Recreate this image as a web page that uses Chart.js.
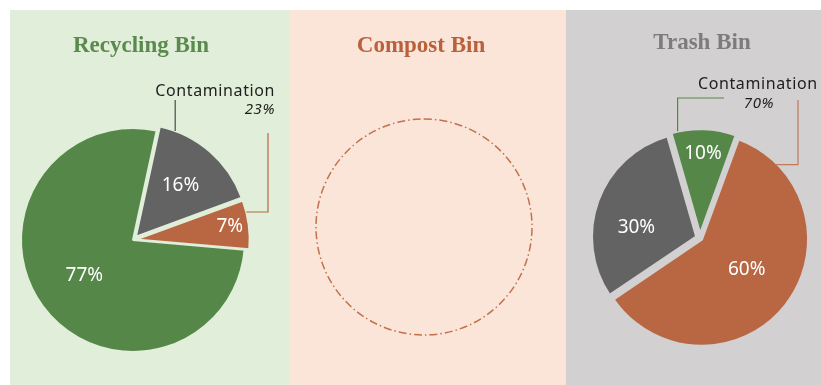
<!DOCTYPE html>
<html><head><meta charset="utf-8">
<script src="https://cdn.jsdelivr.net/npm/chart.js@4"></script>
<style>
html,body{margin:0;padding:0;background:#fff;width:821px;height:385px;overflow:hidden;position:relative;}
.panel{position:absolute;top:10px;height:375px;}
.panel canvas{position:absolute;left:0;top:0;}
.title{position:absolute;transform:translate(-50%,-50%);white-space:nowrap;font-family:"Liberation Serif",serif;font-weight:bold;font-size:23px;}
.callout{position:absolute;white-space:nowrap;font-family:"Noto Sans",sans-serif;font-size:16px;letter-spacing:0.6px;color:#1e1e1e;line-height:1;transform:translateY(-50%);}
.pct{font-style:italic;font-size:15px;}
</style></head>
<body>
<div class="panel" id="p1" style="left:10px;width:280px;background:#e1eed9;"><canvas id="c1" width="280" height="375"></canvas></div>
<div class="panel" id="p2" style="left:290px;width:276px;background:#fbe5d9;"><canvas id="c2" width="276" height="375"></canvas></div>
<div class="panel" id="p3" style="left:566px;width:255px;background:#d2d0d1;"><canvas id="c3" width="255" height="375"></canvas></div>

<div class="title" style="left:141px;top:45px;color:#5b8a4e;">Recycling Bin</div>
<div class="title" style="left:421px;top:45px;color:#b9613d;">Compost Bin</div>
<div class="title" style="left:702px;top:42px;color:#7d7b7c;">Trash Bin</div>

<div class="callout" style="right:546px;top:90px;">Contamination</div>
<div class="callout pct" style="right:546px;top:108px;">23%</div>
<div class="callout" style="left:698px;top:83px;">Contamination</div>
<div class="callout pct" style="left:759px;top:102px;transform:translate(-50%,-50%);">70%</div>

<script>
// ---- data ----
const recyclingLabels = ['Recyclables', 'Trash', 'Compost'];
const recyclingValues = [77, 16, 7];
const trashLabels = ['Recyclables', 'Compost', 'Trash'];
const trashValues = [10, 60, 30];
const compostLabels = ['Empty'];
const compostPlaceholder = [1];

// ---- colours ----
const GREEN = '#558749', GRAY = '#636363', ORANGE = '#b96743';
const colourOf = {Recyclables: GREEN, Trash: GRAY, Compost: ORANGE};

function arcGeom(el) {
  const p = el.getProps(['x','y','startAngle','endAngle','outerRadius','circumference'], true);
  const off = (el.options.offset || 0) / 4;
  const fix = 1 - Math.sin(Math.min(Math.PI, p.circumference || 0));
  const disp = off + off * fix;
  const mid = (p.startAngle + p.endAngle) / 2;
  return {cx: p.x + Math.cos(mid) * disp, cy: p.y + Math.sin(mid) * disp, r: p.outerRadius, s: p.startAngle, e: p.endAngle, mid};
}

const pieLabels = {
  id: 'pieLabels',
  afterDatasetsDraw(chart, args, opts) {
    if (!opts.place) return;
    const ctx = chart.ctx;
    const meta = chart.getDatasetMeta(0);
    const ds = chart.data.datasets[0].data;
    ctx.save();
    ctx.fillStyle = '#ffffff';
    ctx.font = '19px "Noto Sans", sans-serif';
    ctx.textAlign = 'center';
    ctx.textBaseline = 'middle';
    meta.data.forEach((el, i) => {
      const g = arcGeom(el);
      const [frac, shift] = opts.place[i];
      const a = g.mid + shift * Math.PI / 180;
      ctx.fillText(ds[i] + '%', g.cx + Math.cos(a) * g.r * frac, g.cy + Math.sin(a) * g.r * frac);
    });
    ctx.restore();
  }
};

const callouts = {
  id: 'callouts',
  afterDatasetsDraw(chart, args, opts) {
    if (!opts.lines) return;
    const ctx = chart.ctx;
    const meta = chart.getDatasetMeta(0);
    ctx.save();
    ctx.lineWidth = 1.2;
    opts.lines.forEach(L => {
      const g = arcGeom(meta.data[L.index]);
      const a = g.s + L.t * (g.e - g.s);
      let x = g.cx + Math.cos(a) * g.r, y = g.cy + Math.sin(a) * g.r;
      ctx.strokeStyle = L.color;
      ctx.beginPath();
      ctx.moveTo(x, y);
      L.path.forEach(([dir, v]) => {
        if (dir === 'h') x = v; else y = v;
        ctx.lineTo(x, y);
      });
      ctx.stroke();
    });
    ctx.restore();
  }
};

const emptyCircle = {
  id: 'emptyCircle',
  afterDatasetsDraw(chart, args, opts) {
    if (!opts.color) return;
    const el = chart.getDatasetMeta(0).data[0];
    const p = el.getProps(['x','y','outerRadius'], true);
    const ctx = chart.ctx;
    ctx.save();
    ctx.strokeStyle = opts.color;
    ctx.lineWidth = 1.5;
    ctx.setLineDash([8, 3, 1.5, 3]);
    ctx.beginPath();
    ctx.arc(p.x, p.y, p.outerRadius, -Math.PI / 2, Math.PI * 1.5);
    ctx.stroke();
    ctx.restore();
  }
};

function pie(id, labels, values, opt) {
  return new Chart(document.getElementById(id), {
    type: 'pie',
    data: {
      labels,
      datasets: [{
        data: values,
        backgroundColor: opt.fill || labels.map(l => colourOf[l]),
        borderColor: opt.border,
        borderWidth: opt.borderWidth,
        offset: opt.offset || 0
      }]
    },
    options: {
      responsive: false,
      animation: false,
      rotation: opt.rotation,
      radius: opt.radius,
      layout: {padding: opt.padding},
      events: [],
      plugins: {
        legend: {display: false},
        tooltip: {enabled: false},
        pieLabels: {place: opt.place},
        callouts: {lines: opt.lines},
        emptyCircle: {color: opt.circle}
      }
    },
    plugins: [pieLabels, callouts, emptyCircle]
  });
}

// Recycling bin
pie('c1', recyclingLabels, recyclingValues, {
  rotation: 95, radius: 112,
  padding: {left: 0, right: 34, top: 85, bottom: 0},
  border: '#e1eed9', borderWidth: 2,
  offset: [0, 18, 12],
  place: [[0.54, 0], [0.6, 0], [0.83, 0]],
  lines: [
    {index: 1, t: 0.14, color: '#4a4a4a', path: [['v', 90]]},
    {index: 2, t: 0.24, color: ORANGE, path: [['h', 258], ['v', 123]]}
  ]
});

// Compost bin (empty)
pie('c2', compostLabels, compostPlaceholder, {
  rotation: 0, radius: 108,
  padding: {left: 0, right: 8, top: 59, bottom: 0},
  fill: ['rgba(0,0,0,0)'], border: 'rgba(0,0,0,0)', borderWidth: 0,
  circle: '#c3714c'
});

// Trash bin
pie('c3', trashLabels, trashValues, {
  rotation: -16, radius: 105,
  padding: {left: 13, right: 0, top: 81, bottom: 0},
  border: '#d2d0d1', borderWidth: 3,
  offset: [12, 8, 14],
  place: [[0.76, 0], [0.5, -4], [0.58, -11]],
  lines: [
    {index: 0, t: 0.1, color: GREEN, path: [['v', 88], ['h', 158]]},
    {index: 1, t: 0.11, color: '#c07a5c', path: [['h', 232], ['v', 90]]}
  ]
});
</script>
</body></html>
